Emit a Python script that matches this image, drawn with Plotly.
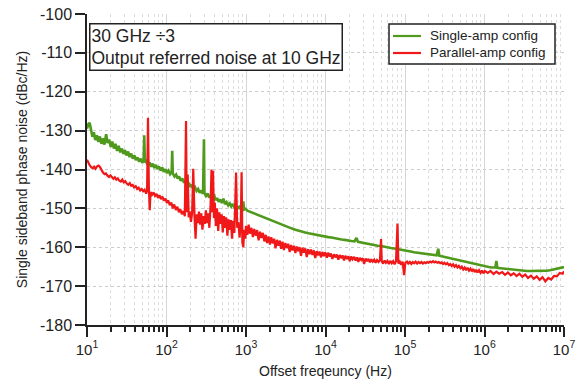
import plotly.graph_objects as go

# ---------------- data ----------------
single_freq = [
    10, 10.4, 10.8, 11.2, 11.7, 12.2, 12.7, 13.3, 13.9, 14.5,
    15.2, 15.9, 16.6, 17.4, 18.2, 19.0, 19.9, 20.8, 21.8, 22.8,
    23.9, 25.0, 26.2, 27.4, 28.7, 30.0, 31.4, 32.9, 34.4, 36.0,
    37.7, 39.5, 41.3, 43.2, 45.3, 47.4, 49.6, 51.5, 52.5, 53.5,
    56.0, 58.6, 61.3, 64.2, 67.2, 70.3, 73.6, 77.0, 80.6, 84.4,
    88.4, 92.5, 96.8, 101, 106, 111, 116, 118, 120, 126,
    132, 138, 144, 151, 158, 166, 173, 181, 190, 199,
    208, 218, 228, 239, 250, 262, 274, 288, 296, 300,
    314, 329, 344, 360, 377, 395, 413, 433, 453, 474,
    497, 520, 544, 570, 597, 625, 654, 685, 717, 751,
    786, 823, 862, 902, 925, 945, 990, 1040, 1100, 1210,
    1330, 1460, 1610, 1770, 1950, 2140, 2360, 2590, 2850, 3140,
    3450, 3800, 4180, 4600, 5060, 5560, 6120, 6730, 7400, 8140,
    8960, 9850, 10800, 11900, 13100, 14400, 15900, 17500, 19200, 21100,
    23200, 24500, 25600, 28200, 31000, 34100, 37500, 41300, 45400, 50000,
    55000, 60500, 66500, 73200, 80500, 88600, 97400, 107000, 118000, 130000,
    143000, 157000, 173000, 190000, 209000, 230000, 250000, 262000, 270000, 297000,
    327000, 360000, 396000, 435000, 479000, 527000, 579000, 637000, 701000, 771000,
    848000, 933000, 1030000, 1130000, 1240000, 1370000, 1410000, 1450000, 1600000, 1760000,
    1930000, 2130000, 2340000, 2570000, 2830000, 3110000, 3420000, 3770000, 4140000, 4560000,
    5010000, 5510000, 6070000, 6670000, 7340000, 8070000, 8880000, 9770000, 10000000,
]
single_db = [
    -129.5, -128.3, -128.0, -129.8, -131.6, -130.4, -132.4, -131.2, -132.9, -131.5,
    -133.4, -132.0, -133.6, -130.9, -133.2, -132.3, -134.2, -132.8, -134.6, -133.4,
    -135.2, -133.9, -135.6, -134.6, -136.0, -135.0, -136.4, -135.4, -136.8, -135.9,
    -137.2, -136.4, -137.6, -136.9, -138.0, -137.2, -138.3, -137.6, -131.2, -138.2,
    -137.8, -138.9, -138.2, -139.3, -138.5, -139.6, -138.8, -139.9, -139.2, -140.3,
    -139.5, -140.6, -139.9, -140.9, -140.3, -141.2, -140.7, -135.2, -141.0, -141.8,
    -141.3, -142.3, -141.8, -142.9, -142.3, -143.4, -142.9, -144.0, -143.4, -144.5,
    -143.9, -145.0, -144.5, -145.5, -145.0, -146.0, -145.4, -146.3, -132.2, -146.0,
    -146.8, -146.2, -147.2, -146.6, -147.6, -146.3, -147.9, -147.3, -148.3, -147.7,
    -148.6, -147.5, -148.9, -148.4, -149.2, -148.7, -149.5, -148.9, -149.8, -149.3,
    -150.0, -149.6, -150.2, -149.8, -148.2, -150.3, -150.1, -150.6, -150.8, -151.2,
    -151.5, -151.9, -152.3, -152.6, -153.0, -153.3, -153.7, -154.0, -154.3, -154.6,
    -154.9, -155.2, -155.5, -155.8, -156.0, -156.2, -156.4, -156.6, -156.8, -157.0,
    -157.1, -157.3, -157.4, -157.5, -157.7, -157.8, -158.0, -158.1, -158.3, -158.4,
    -158.5, -157.6, -158.6, -158.8, -158.9, -159.1, -159.2, -159.4, -159.6, -159.7,
    -159.9, -160.0, -160.2, -160.3, -160.5, -160.6, -160.8, -160.9, -161.1, -161.3,
    -161.4, -161.6, -161.7, -161.8, -161.9, -162.0, -162.1, -160.4, -162.2, -162.4,
    -162.6, -162.8, -163.1, -163.3, -163.5, -163.7, -163.9, -164.1, -164.3, -164.5,
    -164.7, -164.8, -165.0, -165.1, -165.2, -165.2, -163.5, -165.3, -165.4, -165.5,
    -165.6, -165.7, -165.8, -165.9, -165.9, -166.0, -166.1, -166.1, -166.1, -166.1,
    -166.1, -166.0, -166.0, -165.9, -165.7, -165.5, -165.2, -165.0, -165.1,
]

parallel_freq = [
    10, 10.4, 10.8, 11.3, 11.8, 12.3, 12.8, 13.4, 14.0, 14.6,
    15.2, 15.9, 16.6, 17.3, 18.1, 18.9, 19.7, 20.6, 21.5, 22.4,
    23.4, 24.4, 25.5, 26.6, 27.8, 29.0, 30.3, 31.6, 33.0, 34.5,
    36.0, 37.6, 39.2, 41.0, 42.8, 44.6, 46.6, 48.7, 50.8, 53.0,
    55.4, 57.0, 58.5, 60.0, 61.5, 63.0, 65.8, 68.7, 71.7, 74.9,
    78.2, 81.6, 85.2, 89.0, 92.9, 97.0, 101, 105, 110, 115,
    120, 125, 131, 137, 143, 149, 156, 163, 170, 176,
    180, 185, 190, 196, 203, 210, 217, 225, 232, 240,
    248, 256, 265, 274, 283, 293, 303, 313, 324, 335,
    346, 358, 368, 375, 385, 395, 405, 418, 432, 447,
    462, 478, 494, 510, 528, 545, 564, 583, 603, 624,
    645, 667, 690, 714, 750, 775, 800, 830, 860, 880,
    900, 925, 950, 980, 1000, 1040, 1080, 1120, 1170, 1220,
    1270, 1320, 1380, 1440, 1500, 1560, 1630, 1700, 1770, 1840,
    1920, 2000, 2080, 2170, 2260, 2350, 2450, 2550, 2660, 2770,
    2880, 3000, 3130, 3260, 3400, 3540, 3690, 3850, 4010, 4180,
    4350, 4530, 4720, 4920, 5130, 5350, 5570, 5810, 6050, 6300,
    6570, 6850, 7140, 7440, 7750, 8080, 8420, 8770, 9140, 9530,
    9930, 10400, 10800, 11300, 11700, 12200, 12800, 13300, 13900, 14500,
    15100, 15700, 16400, 17100, 17800, 18600, 19400, 20200, 21000, 21900,
    22900, 23900, 24900, 25900, 27000, 28200, 29400, 30600, 31900, 33300,
    34700, 36200, 37700, 39300, 41000, 42700, 44500, 46400, 48400, 50000,
    51000, 53000, 55300, 57600, 60100, 62600, 65300, 68100, 71000, 74000,
    77100, 80500, 82500, 86000, 89600, 93400, 97400, 101000, 106000, 110000,
    115000, 120000, 125000, 130000, 136000, 142000, 148000, 154000, 161000, 168000,
    175000, 182000, 190000, 198000, 207000, 216000, 225000, 234000, 244000, 255000,
    266000, 277000, 289000, 301000, 314000, 327000, 341000, 356000, 371000, 387000,
    403000, 420000, 438000, 457000, 476000, 497000, 518000, 540000, 563000, 587000,
    612000, 638000, 665000, 693000, 723000, 754000, 786000, 819000, 854000, 891000,
    929000, 968000, 1010000, 1100000, 1190000, 1300000, 1410000, 1530000, 1670000, 1810000,
    1970000, 2140000, 2330000, 2530000, 2750000, 2990000, 3250000, 3530000, 3840000, 4170000,
    4540000, 4930000, 5360000, 5830000, 6340000, 6890000, 7490000, 8140000, 8850000, 9620000, 10000000,
]
parallel_db = [
    -137.5, -138.3, -138.9, -139.4, -139.7, -139.3, -139.8, -139.2, -139.0, -139.4,
    -140.3, -140.8, -141.2, -141.0, -141.6, -141.9, -141.5, -142.1, -142.4, -142.0,
    -142.6, -142.3, -142.9, -143.1, -142.6, -143.3, -143.0, -143.6, -143.9, -143.5,
    -144.2, -144.0, -144.6, -144.3, -145.0, -144.7, -145.4, -145.0, -145.6, -145.2,
    -146.2, -145.5, -126.7, -144.5, -150.5, -145.8, -146.5, -145.9, -146.8, -146.3,
    -147.3, -146.6, -147.6, -147.0, -148.0, -147.5, -148.6, -147.9, -149.2, -148.5,
    -150.0, -149.0, -150.4, -149.6, -151.0, -150.2, -151.5, -150.7, -152.0, -127.5,
    -151.0, -141.3, -152.3, -150.8, -153.5, -151.2, -139.8, -152.0, -157.8, -151.5,
    -153.8, -150.8, -154.2, -151.3, -155.5, -152.0, -154.0, -150.5, -153.8, -151.3,
    -155.0, -149.5, -140.0, -151.0, -140.3, -152.5, -148.5, -154.5, -150.0, -155.8,
    -151.0, -154.0, -151.5, -156.2, -152.0, -155.0, -152.3, -157.0, -152.8, -155.5,
    -153.0, -157.8, -153.2, -156.3, -140.8, -155.0, -153.5, -157.5, -154.0, -140.7,
    -158.8, -160.0, -155.5, -157.8, -154.5, -156.8, -154.2, -156.5, -155.0, -157.4,
    -155.3, -157.0, -155.6, -158.2, -156.0, -157.6, -156.3, -158.5, -156.8, -158.9,
    -157.2, -159.3, -157.4, -159.0, -157.8, -160.3, -158.1, -159.6, -158.3, -160.4,
    -158.6, -160.7, -158.9, -160.2, -159.1, -161.2, -159.4, -160.8, -159.6, -161.5,
    -159.8, -161.0, -160.0, -162.2, -160.1, -161.4, -160.3, -162.5, -160.5, -161.8,
    -160.6, -162.0, -160.8, -162.8, -161.0, -162.1, -161.1, -162.6, -161.2, -162.3,
    -161.3, -162.7, -161.4, -162.4, -161.6, -163.0, -161.8, -162.6, -161.9, -163.2,
    -162.0, -162.8, -162.1, -163.4, -162.2, -163.0, -162.3, -163.6, -162.4, -163.1,
    -162.5, -163.4, -162.6, -163.8, -162.7, -163.3, -162.8, -164.3, -162.9, -163.6,
    -163.0, -163.9, -163.1, -163.7, -163.2, -164.0, -163.3, -163.8, -163.3, -157.9,
    -163.6, -164.2, -163.4, -164.0, -163.5, -164.3, -163.5, -164.1, -163.6, -164.4,
    -163.6, -153.9, -164.2, -163.7, -164.5, -163.7, -167.2, -164.0, -163.7, -164.2,
    -163.8, -164.3, -163.8, -164.1, -163.7, -164.2, -163.8, -164.1, -163.8, -164.2,
    -163.9, -164.1, -163.8, -164.0, -163.7, -163.9, -163.6, -163.9, -163.7, -164.0,
    -163.8, -164.1, -163.9, -164.3, -164.0, -164.4, -164.1, -164.6, -164.3, -164.8,
    -164.4, -165.0, -164.6, -165.2, -164.8, -165.4, -165.0, -165.7, -165.2, -165.9,
    -165.3, -166.0, -165.5, -166.2, -165.6, -166.4, -165.8, -166.5, -165.9, -166.6,
    -166.0, -166.7, -166.1, -166.6, -166.1, -166.9, -166.3, -166.8, -166.4, -167.1,
    -166.5, -167.2, -166.7, -167.4, -166.8, -167.6, -167.0, -167.9, -167.3, -168.1,
    -167.5, -168.4, -167.7, -168.8, -167.9, -168.3, -167.4, -167.5, -166.6, -166.8, -166.2,
]

assert len(single_freq) == len(single_db)
assert len(parallel_freq) == len(parallel_db)

x_tickvals = [1e1, 1e2, 1e3, 1e4, 1e5, 1e6, 1e7]
x_ticktext = ["10<sup>1</sup>", "10<sup>2</sup>", "10<sup>3</sup>", "10<sup>4</sup>",
              "10<sup>5</sup>", "10<sup>6</sup>", "10<sup>7</sup>"]
y_tickvals = [-100, -110, -120, -130, -140, -150, -160, -170, -180]
y_ticktext = ["-100", "-110", "-120", "-130", "-140", "-150", "-160", "-170", "-180"]

series_names = ["Single-amp config", "Parallel-amp config"]
series_colors = ["#4f9a1c", "#f01818"]

# ---------------- figure ----------------
FONT = "Liberation Sans, Arial, sans-serif"
INK = "#222222"
minor_vals = [k * 10 ** e for e in range(1, 7) for k in range(2, 10)]

fig = go.Figure()
fig.add_trace(go.Scatter(x=single_freq, y=single_db, mode="lines",
                         name=series_names[0], showlegend=False,
                         line=dict(color=series_colors[0], width=2.6)))
fig.add_trace(go.Scatter(x=parallel_freq, y=parallel_db, mode="lines",
                         name=series_names[1], showlegend=False,
                         line=dict(color=series_colors[1], width=2.2)))

fig.update_layout(
    width=579, height=379,
    margin=dict(l=87, r=15, t=14, b=54, autoexpand=False),
    paper_bgcolor="white", plot_bgcolor="white",
    font=dict(family=FONT, color=INK, size=13),
    showlegend=False,
)

fig.update_xaxes(
    type="log", range=[1, 7], automargin=False,
    tickvals=x_tickvals, ticktext=x_ticktext,
    ticks="outside", ticklen=10, tickwidth=1.5, tickcolor=INK,
    showline=True, linecolor=INK, linewidth=1.5,
    showgrid=True, gridcolor="#d6d6d6", gridwidth=1,
    zeroline=False,
    tickfont=dict(size=15),
    title=dict(text="Offset freqeuncy (Hz)", font=dict(size=14)),
    minor=dict(tickvals=minor_vals, ticks="outside", ticklen=5, tickwidth=1.5,
               tickcolor=INK, showgrid=True, gridcolor="#dddddd",
               griddash="dot", gridwidth=1),
)
fig.update_yaxes(
    range=[-180, -100], automargin=False,
    tickvals=y_tickvals, ticktext=y_ticktext, ticklabeloverflow="allow",
    ticks="outside", ticklen=10, tickwidth=1.5, tickcolor=INK,
    showline=True, linecolor=INK, linewidth=1.5,
    showgrid=True, gridcolor="#cccccc", griddash="dot", gridwidth=1,
    zeroline=False,
    tickfont=dict(size=16),
    title=dict(text="Single sideband phase noise (dBc/Hz)", font=dict(size=14), standoff=9),
)

# info box
fig.add_annotation(
    xref="paper", yref="paper", x=0.005, y=0.972, xanchor="left", yanchor="top",
    text="30 GHz ÷3<br>Output referred noise at 10 GHz",
    showarrow=False, align="left",
    font=dict(size=17.5, family=FONT, color=INK),
    bordercolor=INK, borderwidth=1.5, borderpad=1, bgcolor="white",
)

# legend box (drawn)
def px_x(p):
    return (p - 87) / 477.0

def px_y(p):
    return (325 - p) / 311.0

fig.add_shape(type="rect", xref="paper", yref="paper",
              x0=px_x(389), x1=px_x(555), y0=px_y(64), y1=px_y(24),
              line=dict(color=INK, width=1.5), fillcolor="white", layer="above")
for i, (nm, col) in enumerate(zip(series_names, series_colors)):
    yy = px_y(36 + 17 * i)
    fig.add_shape(type="line", xref="paper", yref="paper",
                  x0=px_x(393), x1=px_x(421), y0=yy, y1=yy,
                  line=dict(color=col, width=2.2), layer="above")
    fig.add_annotation(xref="paper", yref="paper", x=px_x(428), y=yy,
                       xanchor="left", yanchor="middle", text=nm, showarrow=False,
                       font=dict(size=13.5, family=FONT, color=INK))

fig.write_html("out.html", config={"displayModeBar": False},
               post_script="document.body.style.margin='0';")
